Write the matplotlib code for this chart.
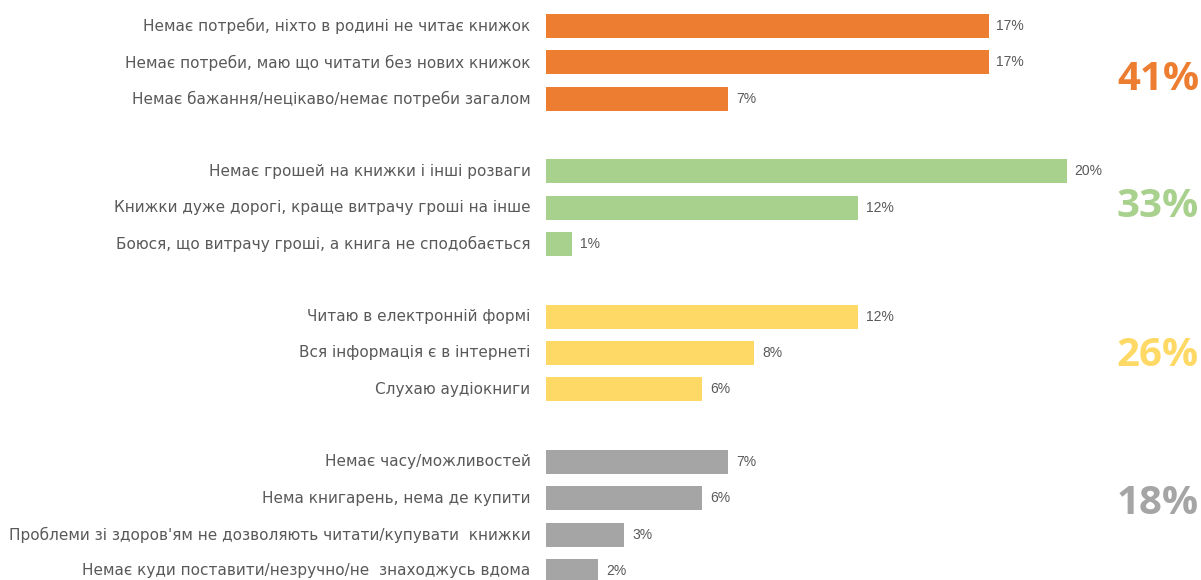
import matplotlib.pyplot as plt

# --------------------------------------------------------------
# Data
# --------------------------------------------------------------
labels_1 = ["Немає потреби, ніхто в родині не читає книжок",
            "Немає потреби, маю що читати без нових книжок",
            "Немає бажання/нецікаво/немає потреби загалом"]
values_1 = [17, 17, 7]

labels_2 = ["Немає грошей на книжки і інші розваги",
            "Книжки дуже дорогі, краще витрачу гроші на інше",
            "Боюся, що витрачу гроші, а книга не сподобається"]
values_2 = [20, 12, 1]

labels_3 = ["Читаю в електронній формі",
            "Вся інформація є в інтернеті",
            "Слухаю аудіокниги"]
values_3 = [12, 8, 6]

labels_4 = ["Немає часу/можливостей",
            "Нема книгарень, нема де купити",
            "Проблеми зі здоров'ям не дозволяють читати/купувати  книжки",
            "Немає куди поставити/незручно/не  знаходжусь вдома"]
values_4 = [7, 6, 3, 2]

group_totals = ["41%", "33%", "26%", "18%"]
colors = ["#ED7D31", "#A9D18E", "#FFD966", "#A5A5A5"]

groups = [(labels_1, values_1), (labels_2, values_2),
          (labels_3, values_3), (labels_4, values_4)]

# baseline of the big group totals, in rows below the group's first bar
total_offsets = [1.76, 1.26, 1.35, 1.43]

# --------------------------------------------------------------
# Plot
# --------------------------------------------------------------
fig = plt.figure(figsize=(12.01, 5.80), dpi=100)
ax = fig.add_axes([546 / 1201, -9 / 580, 651 / 1201, 581 / 580])

row = 0
for (labels, values), color, total, off in zip(groups, colors, group_totals, total_offsets):
    rows = list(range(row, row + len(labels)))
    ax.barh(rows, values, height=0.66, color=color)
    for r, lab, v in zip(rows, labels, values):
        ax.text(-0.6, r, lab, ha="right", va="center", fontsize=11,
                color="#595959", family="DejaVu Sans")
        ax.text(v + 0.3, r, f"{v}%", ha="left", va="center", fontsize=10,
                color="#595959", family="Liberation Sans")
    ax.text(23.5, row + off, total, ha="center", va="baseline", fontsize=29,
            fontweight="bold", color=color, family="Open Sans", clip_on=False)
    row += len(labels) + 1

ax.set_xlim(0, 25)
ax.set_ylim(15.5, -0.5)
ax.axis("off")

fig.savefig("out.png", dpi=100)
